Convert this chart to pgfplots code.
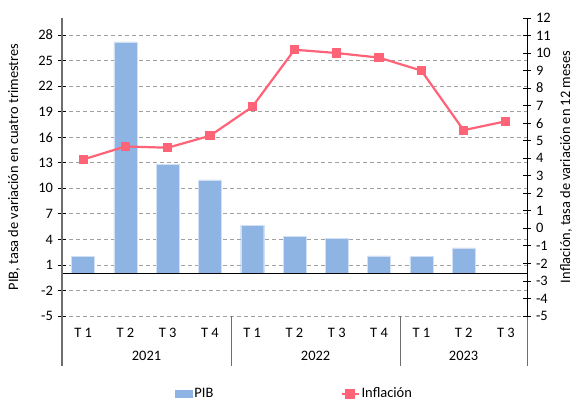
\documentclass[border=0pt]{standalone}
\usepackage{fontspec}
\setmainfont{Carlito}
\usepackage{pgfplots}
\pgfplotsset{compat=1.18}
\definecolor{barblue}{RGB}{141,180,226}
\definecolor{infred}{RGB}{255,99,120}
\definecolor{gridgray}{RGB}{160,160,160}
\definecolor{axgray}{RGB}{110,110,110}

\pgfplotstableread{
x pib
0 2.0
1 27.2
2 12.8
3 11.0
4 5.65
5 4.35
6 4.12
7 2.07
8 2.0
9 3.0
}\pibdata

\pgfplotstableread{
x inf
0 3.93
1 4.67
2 4.6
3 5.28
4 6.93
5 10.19
6 10.0
7 9.74
8 9.0
9 5.6
10 6.11
}\infdata

\begin{document}
\fontsize{14.5}{17}\selectfont
\begin{tikzpicture}
\useasboundingbox (-62bp,-84bp) rectangle (519bp,316bp);
\begin{axis}[
  at={(0,0)}, anchor=south west,
  scale only axis, width=465bp, height=298bp,
  xmin=-0.5, xmax=10.5, ymin=-5, ymax=30,
  ytick={-5,-2,...,28},
  xtick={0,...,10},
  xticklabels={T 1,T 2,T 3,T 4,T 1,T 2,T 3,T 4,T 1,T 2,T 3},
  xtick style={draw=none},
  xticklabel style={yshift=-3bp},
  ytick pos=left, xtick pos=bottom,
  ytick style={black, line width=0.8bp},
  tick align=center, major tick length=8bp,
  axis line style={draw=none},
  ymajorgrids, grid style={gridgray, dash pattern=on 4bp off 3bp, line width=0.8bp},
  /pgf/number format/assume math mode=true,
  ylabel={PIB, tasa de variación en cuatro trimestres},
  every axis y label/.style={at={(rel axis cs:0,0.5)}, xshift=-48bp, rotate=90, anchor=center},
  every tick label/.append style={font=\fontsize{14.5}{17}\selectfont},
  clip=false,
]
\addplot[ybar, bar width=23bp, fill=barblue, draw=white!60!barblue] table[x=x,y=pib] {\pibdata};
\draw[black, line width=0.9bp] (axis cs:-0.5,0) -- (axis cs:10.5,0);
\draw[axgray, line width=1.2bp] (rel axis cs:0,1) -- (rel axis cs:0,0) -- ++(0bp,-50bp);
\draw[axgray, line width=1bp] (axis cs:3.5,-5) -- ++(0bp,-50bp);
\draw[axgray, line width=1bp] (axis cs:7.5,-5) -- ++(0bp,-50bp);
\draw[axgray, line width=1bp] (axis cs:10.5,-5) -- ++(0bp,-50bp);
\node at (axis cs:1.5,-5) [yshift=-40bp] {2021};
\node at (axis cs:5.5,-5) [yshift=-40bp] {2022};
\node at (axis cs:9,-5) [yshift=-40bp] {2023};
\end{axis}
\begin{axis}[
  at={(0,0)}, anchor=south west,
  scale only axis, width=465bp, height=298bp,
  xmin=-0.5, xmax=10.5, ymin=-5, ymax=12,
  ytick={-5,...,12}, xtick=\empty,
  ytick pos=right,
  ytick style={black, line width=0.8bp},
  tick align=center, major tick length=8bp,
  axis line style={draw=none},
  /pgf/number format/assume math mode=true,
  ylabel={Inflación, tasa de variación en 12 meses},
  every axis y label/.style={at={(rel axis cs:1,0.5)}, xshift=39bp, rotate=90, anchor=center},
  every tick label/.append style={font=\fontsize{14.5}{17}\selectfont},
  legend columns=2,
  legend style={at={(rel axis cs:0.5,0)}, anchor=center, yshift=-78bp, draw=none, fill=none,
    font=\fontsize{14.5}{17}\selectfont,
    /tikz/every even column/.append style={column sep=125bp}},
  clip=false,
]
\draw[black, line width=1bp] (rel axis cs:1,1) -- (rel axis cs:1,0);
\addlegendimage{legend image code/.code={\fill[barblue] (0bp,-3.5bp) rectangle (17bp,3.5bp);}}
\addlegendentry{PIB}
\addplot[infred, line width=2.2bp, mark=square*, mark size=3.5bp, mark options={solid, fill=infred}] table[x=x,y=inf] {\infdata};
\addlegendentry{Inflación}
\end{axis}
\end{tikzpicture}
\end{document}
